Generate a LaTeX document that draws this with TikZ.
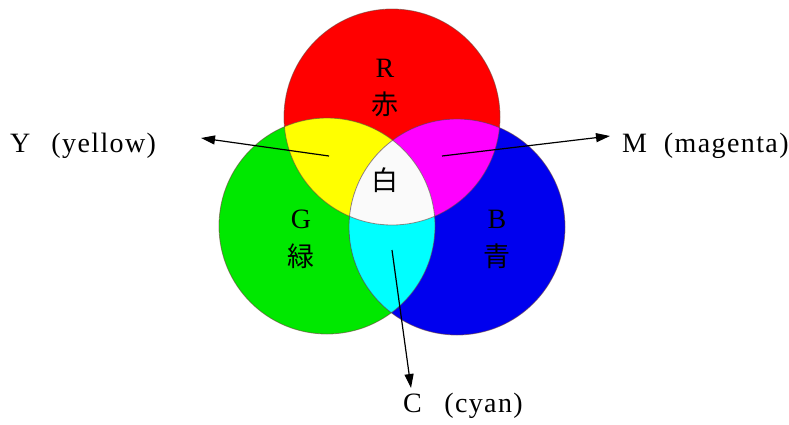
\documentclass[tikz,border=0pt]{standalone}
\usepackage{fontspec}
\setmainfont{Liberation Serif}
\newfontfamily\cjk{Noto Sans CJK JP}
\newfontfamily\spaced[LetterSpace=5]{Liberation Serif}
\usetikzlibrary{arrows.meta}
\definecolor{cR}{RGB}{255,0,0}
\definecolor{cG}{RGB}{0,232,0}
\definecolor{cB}{RGB}{0,0,238}
\definecolor{cY}{RGB}{255,255,0}
\definecolor{cM}{RGB}{255,0,255}
\definecolor{cC}{RGB}{0,255,255}
\definecolor{cW}{RGB}{250,250,250}
\definecolor{edge}{RGB}{110,70,60}
\begin{document}
\begin{tikzpicture}[x=1pt,y=-1pt,
  lat/.style={font=\fontsize{28}{30}\selectfont, inner sep=0pt, anchor=base},
  kan/.style={font=\cjk\fontsize{27}{30}\selectfont, inner sep=0pt},
  lbl/.style={font=\spaced\fontsize{28}{30}\selectfont, inner sep=0pt, anchor=base west},
  pointer/.style={line width=1.2pt, -{Triangle[length=14pt,width=9pt]}},
  rim/.style={draw=edge, draw opacity=0.6, line width=0.8pt}]
\useasboundingbox (0,0) rectangle (789,424);
\fill[white] (0,0) rectangle (789,424);
\def\rr{108pt}
\coordinate (cr) at (392,117);
\coordinate (cg) at (327,226);
\coordinate (cb) at (457,227);
% base discs
\fill[cR] (cr) circle[radius=\rr];
\fill[cG] (cg) circle[radius=\rr];
\fill[cB] (cb) circle[radius=\rr];
% pairwise overlaps
\begin{scope}
  \clip (cr) circle[radius=\rr];
  \fill[cY] (cg) circle[radius=\rr];
  \fill[cM] (cb) circle[radius=\rr];
\end{scope}
\begin{scope}
  \clip (cg) circle[radius=\rr];
  \fill[cC] (cb) circle[radius=\rr];
\end{scope}
\begin{scope}
  \clip (cr) circle[radius=\rr];
  \clip (cg) circle[radius=\rr];
  \fill[cW] (cb) circle[radius=\rr];
\end{scope}
% rims
\draw[rim] (cr) circle[radius=\rr];
\draw[rim] (cg) circle[radius=\rr];
\draw[rim] (cb) circle[radius=\rr];
% labels inside
\node[lat] (rl) at (385,77) {R};
\node[kan] (rk) at (385,104) {赤};
\node[lat] (gl) at (301,228) {G};
\node[kan] (gk) at (301,256) {緑};
\node[lat] (bl) at (497,228) {B};
\node[kan] (bk) at (497,256) {青};
\node[kan] (wk) at (385,180) {白};
% outer labels
\node[lbl] (yl) at (10,152) {Y\hspace{0.75em}(yellow)};
\node[lbl] (ml) at (622,152) {M\hspace{0.6em}(magenta)};
\node[lbl] (cl) at (403,412) {C\hspace{0.8em}(cyan)};
% pointers
\coordinate (ys) at (329,156);
\coordinate (yt) at (201,138);
\coordinate (ms) at (442,156);
\coordinate (mt) at (610,136);
\coordinate (cs) at (392,250);
\coordinate (ct) at (411,388);
\draw[pointer] (ys) -- (yt);
\draw[pointer] (ms) -- (mt);
\draw[pointer] (cs) -- (ct);
\end{tikzpicture}
\end{document}
